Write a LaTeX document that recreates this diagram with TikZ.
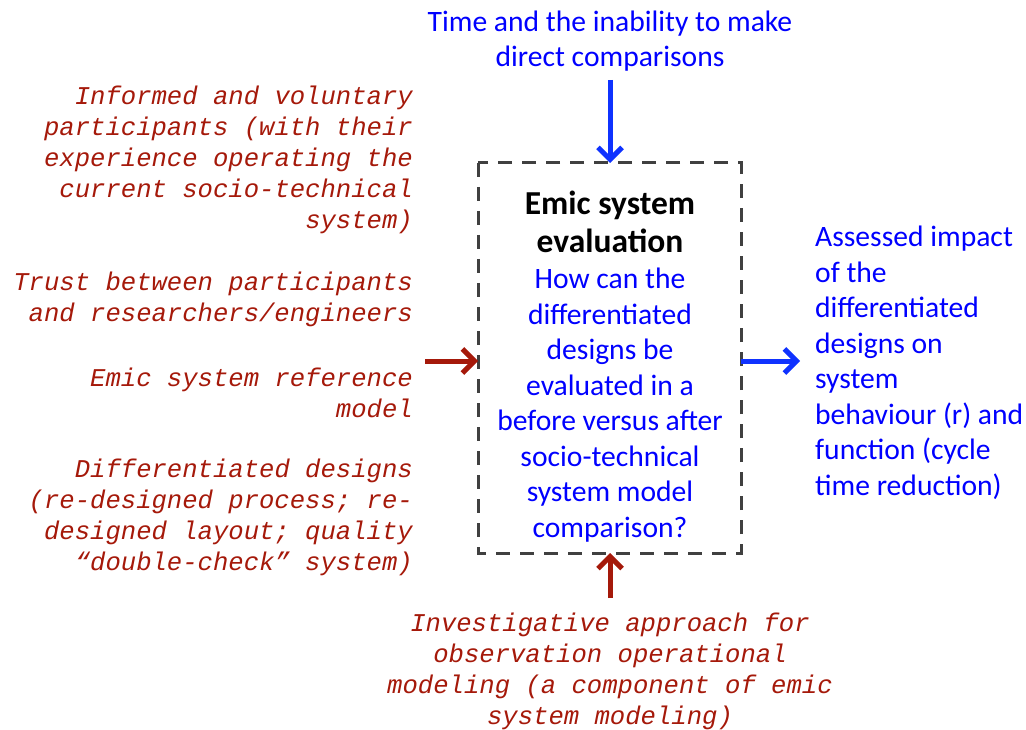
\documentclass[tikz,border=0pt]{standalone}
\usepackage{fontspec}
\setmainfont{Carlito}
\newfontfamily\monoit{Liberation Mono}
\usetikzlibrary{arrows.meta}
\definecolor{myred}{RGB}{165,25,10}
\definecolor{myblue}{RGB}{0,0,255}
\definecolor{arrblue}{RGB}{15,50,255}
\definecolor{boxgray}{RGB}{64,64,64}
\tikzset{
  redtxt/.style={inner sep=0pt, text=myred, align=right, font=\monoit\itshape\fontsize{25.6}{31}\selectfont},
  bluetxt/.style={inner sep=0pt, text=myblue, font=\fontsize{29.6}{35.5}\selectfont},
  redarrow/.style={draw=myred, line width=5pt, -{Straight Barb[length=12pt,width=24pt,line width=5pt]}},
  bluearrow/.style={draw=arrblue, line width=5pt, -{Straight Barb[length=12pt,width=24pt,line width=5pt]}},
  dashbox/.style={draw=boxgray, line width=3pt, dash pattern=on 14pt off 10pt}
}
\begin{document}
\begin{tikzpicture}[x=1pt,y=-1pt]
\useasboundingbox (0,0) rectangle (1026,730);
% box
\draw[dashbox] (478,163) rectangle (741,553);
\coordinate (bt) at (610,163);
\coordinate (bl) at (478,361);
\coordinate (br) at (741,361);
\coordinate (bb) at (610,553);
\node[inner sep=0pt, align=center, font=\bfseries\fontsize{33.5}{38}\selectfont] (title) at (610,222) {Emic system\\evaluation};
\node[bluetxt, align=center] (q) at (610,405) {How can the\\differentiated\\designs be\\evaluated in a\\before versus after\\socio-technical\\system model\\comparison?};
% top
\node[bluetxt, align=center] (top) at (610,41) {Time and the inability to make\\direct comparisons};
\coordinate (topA) at (610,80);
\draw[bluearrow] (topA) -- (bt);
% right
\node[bluetxt, align=left, anchor=west] (right) at (815,363) {Assessed impact\\of the\\differentiated\\designs on\\system\\behaviour (r) and\\function (cycle\\time reduction)};
\draw[bluearrow] (br) -- (800,361) coordinate (rA);
% left
\node[redtxt, anchor=east] (l1) at (413,160) {Informed and voluntary\\participants (with their\\experience operating the\\current socio-technical\\system)};
\node[redtxt, anchor=east] (l2) at (413,299) {Trust between participants\\and researchers/engineers};
\node[redtxt, anchor=east] (l3) at (413,393) {Emic system reference\\model};
\node[redtxt, anchor=east] (l4) at (413,517) {Differentiated designs\\(re-designed process; re-\\designed layout; quality\\“double-check” system)};
\coordinate (lA) at (425,361);
\draw[redarrow] (lA) -- (bl);
% bottom
\node[redtxt, align=center] (bot) at (610,671) {Investigative approach for\\observation operational\\modeling (a component of emic\\system modeling)};
\coordinate (bA) at (610,598);
\draw[redarrow] (bA) -- (bb);
\end{tikzpicture}
\end{document}
